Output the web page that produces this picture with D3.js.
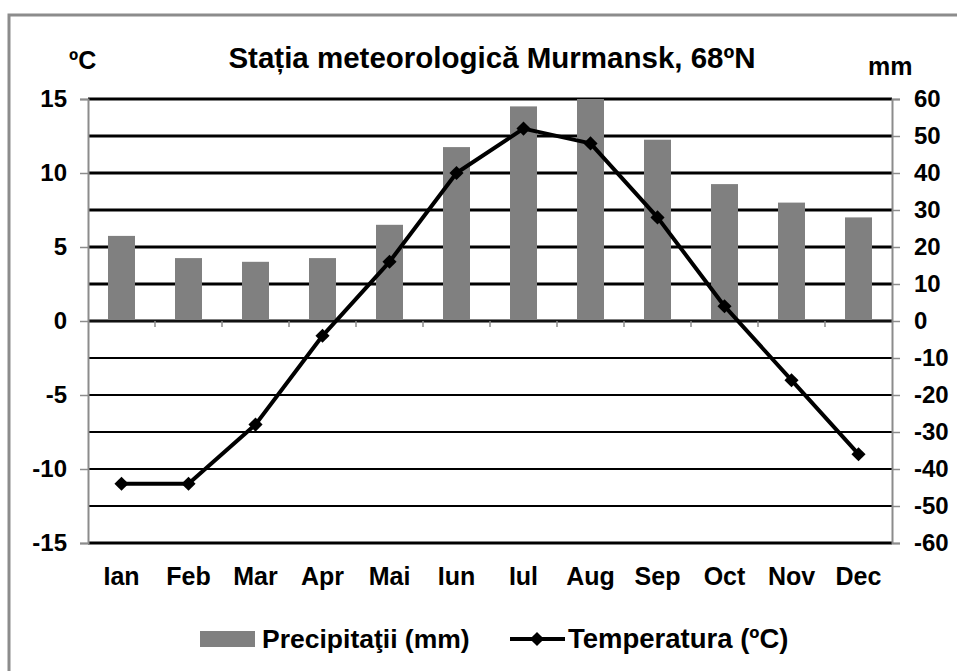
<!DOCTYPE html>
<html>
<head>
<meta charset="utf-8">
<script src="https://cdn.jsdelivr.net/npm/d3@7"></script>
<style>
  body { margin: 0; background: #fff; }
  text { font-family: "Liberation Sans", Arial, sans-serif; font-weight: bold; fill: #000; }
</style>
</head>
<body>
<div id="chart"></div>
<script>
let months = ["Ian", "Feb", "Mar", "Apr", "Mai", "Iun", "Iul", "Aug", "Sep", "Oct", "Nov", "Dec"]
let precip = [23, 17, 16, 17, 26, 47, 58, 60, 49, 37, 32, 28]
let temp = [-11, -11, -7, -1, 4, 10, 13, 12, 7, 1, -4, -9]
let tempTicks = [15, 10, 5, 0, -5, -10, -15]
let precipTicks = [60, 50, 40, 30, 20, 10, 0, -10, -20, -30, -40, -50, -60]
let gridValues = [15, 12.5, 10, 7.5, 5, 2.5, 0, -2.5, -5, -7.5, -10, -12.5, -15]

let width = 957
let height = 671
let margin = { top: 99, right: 65, bottom: 128, left: 88 }
let axisGray = '#8c8c8c'

let svg = d3.select('#chart')
    .append('svg')
    .attr('width', width)
    .attr('height', height)

// outer frame (only top and left edges visible)
svg.append('path')
    .attr('d', `M9,${height} V15 H${width}`)
    .attr('fill', 'none')
    .attr('stroke', axisGray)
    .attr('stroke-width', 3)

let x = d3.scaleBand()
    .domain(months)
    .range([margin.left, width - margin.right])
    .padding(0)

let yT = d3.scaleLinear()
    .domain([-15, 15])
    .range([height - margin.bottom, margin.top])

let yP = d3.scaleLinear()
    .domain([-60, 60])
    .range([height - margin.bottom, margin.top])

// gridlines
svg.append('g')
    .selectAll('line')
    .data(gridValues)
    .join('line')
    .attr('x1', margin.left)
    .attr('x2', width - margin.right)
    .attr('y1', d => yT(d))
    .attr('y2', d => yT(d))
    .attr('stroke', '#000')
    .attr('stroke-width', d => (d >= 0 || d === -15) ? 3 : 2)

// bars
let barW = 27
svg.append('g')
    .selectAll('rect')
    .data(precip)
    .join('rect')
    .attr('x', (d, i) => x(months[i]) + x.bandwidth() / 2 - barW / 2)
    .attr('y', d => yP(d))
    .attr('width', barW)
    .attr('height', d => yP(0) - yP(d))
    .attr('fill', '#808080')

// zero line
svg.append('line')
    .attr('x1', margin.left)
    .attr('x2', width - margin.right)
    .attr('y1', yT(0))
    .attr('y2', yT(0))
    .attr('stroke', '#111')
    .attr('stroke-width', 2)

// category ticks
svg.append('g')
    .selectAll('line')
    .data(months.slice(1))
    .join('line')
    .attr('x1', d => x(d))
    .attr('x2', d => x(d))
    .attr('y1', yT(0))
    .attr('y2', yT(0) + 6)
    .attr('stroke', axisGray)
    .attr('stroke-width', 1.5)

let styleAxis = (g) => {
    g.select('.domain').attr('stroke', axisGray).attr('stroke-width', 2)
    g.selectAll('.tick line').attr('stroke', axisGray).attr('stroke-width', 1.5)
    g.selectAll('.tick text')
        .attr('font-size', 24)
        .attr('font-family', '"Liberation Sans", Arial, sans-serif')
        .attr('font-weight', 'bold')
        .attr('fill', '#000')
        .text(d => d < 0 ? '-' + Math.abs(d) : d)
}

// left axis
svg.append('g')
    .attr('transform', `translate(${margin.left},0)`)
    .call(d3.axisLeft(yT).tickValues(tempTicks).tickSize(8).tickPadding(13))
    .call(styleAxis)

// right axis
svg.append('g')
    .attr('transform', `translate(${width - margin.right},0)`)
    .call(d3.axisRight(yP).tickValues(precipTicks).tickSize(8).tickPadding(14))
    .call(styleAxis)

// month labels
svg.append('g')
    .selectAll('text')
    .data(months)
    .join('text')
    .attr('x', d => x(d) + x.bandwidth() / 2)
    .attr('y', 585)
    .attr('text-anchor', 'middle')
    .attr('font-size', 25)
    .text(d => d)

// temperature line
let line = d3.line()
    .x((d, i) => x(months[i]) + x.bandwidth() / 2)
    .y(d => yT(d))

svg.append('path')
    .datum(temp)
    .attr('d', line)
    .attr('fill', 'none')
    .attr('stroke', '#000')
    .attr('stroke-width', 4)
    .attr('stroke-linejoin', 'round')

let marker = d3.symbol(d3.symbolSquare, 100)

svg.append('g')
    .selectAll('path')
    .data(temp)
    .join('path')
    .attr('transform', (d, i) => `translate(${x(months[i]) + x.bandwidth() / 2},${yT(d)}) rotate(45)`)
    .attr('d', marker)
    .attr('fill', '#000')

// title + units
svg.append('text')
    .attr('x', 492)
    .attr('y', 68)
    .attr('text-anchor', 'middle')
    .attr('font-size', 29.5)
    .text('Stația meteorologică Murmansk, 68ºN')

svg.append('text')
    .attr('x', 69)
    .attr('y', 69)
    .attr('font-size', 25)
    .text('ºC')

svg.append('text')
    .attr('x', 868)
    .attr('y', 75)
    .attr('font-size', 25)
    .text('mm')

// legend
svg.append('rect')
    .attr('x', 200)
    .attr('y', 631)
    .attr('width', 55)
    .attr('height', 16)
    .attr('fill', '#808080')

svg.append('text')
    .attr('x', 262)
    .attr('y', 648)
    .attr('font-size', 26.5)
    .text('Precipitaţii (mm)')

svg.append('line')
    .attr('x1', 510)
    .attr('x2', 565)
    .attr('y1', 639)
    .attr('y2', 639)
    .attr('stroke', '#000')
    .attr('stroke-width', 4)

svg.append('path')
    .attr('transform', 'translate(537,639) rotate(45)')
    .attr('d', marker)
    .attr('fill', '#000')

svg.append('text')
    .attr('x', 568)
    .attr('y', 648)
    .attr('font-size', 27.5)
    .text('Temperatura (ºC)')
</script>
</body>
</html>
